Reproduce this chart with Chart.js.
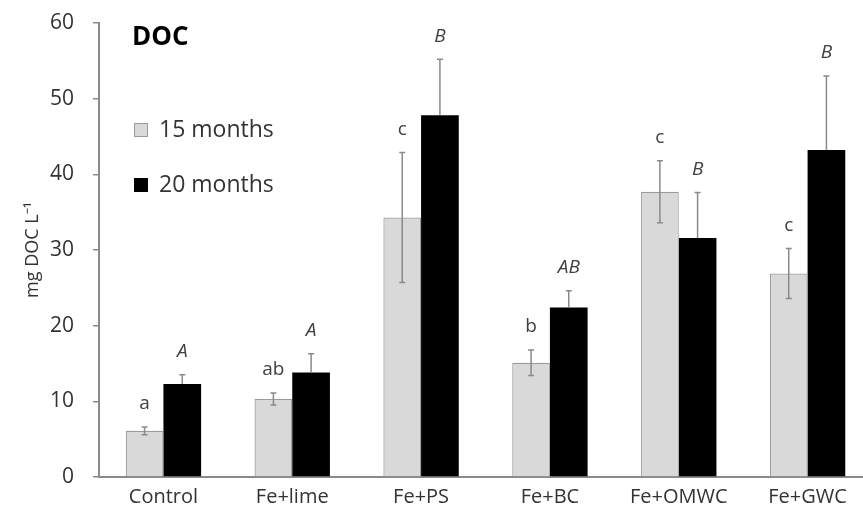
<!DOCTYPE html>
<html><head><meta charset="utf-8">
<script src="https://cdn.jsdelivr.net/npm/chart.js@4/dist/chart.umd.min.js"></script>
<style>
html,body{margin:0;padding:0;background:#fff;overflow:hidden;}
#wrap{position:relative;width:882px;height:523px;}
</style></head><body>
<div id="wrap"><canvas id="c"></canvas></div>
<script>
const categories = ['Control','Fe+lime','Fe+PS','Fe+BC','Fe+OMWC','Fe+GWC'];
const seriesNames = ['15 months','20 months'];
const values15 = [6.1, 10.3, 34.3, 15.1, 37.7, 26.9];
const values20 = [12.3, 13.8, 47.8, 22.4, 31.6, 43.2];
const err15 = [0.5, 0.8, 8.6, 1.7, 4.1, 3.3];
const err20 = [1.2, 2.5, 7.4, 2.2, 6.0, 9.8];
const letters15 = ['a','ab','c','b','c','c'];
const letters20 = ['A','A','B','AB','B','B'];
const yTicks = [0,10,20,30,40,50,60];
const chartTitle = 'DOC';
const yTitle = 'mg DOC L\u207B\u00B9';

const FONT = "'Open Sans', 'Liberation Sans', sans-serif";

const errorBars = {
  id:'errorBars',
  afterDatasetsDraw(chart){
    const ctx = chart.ctx, y = chart.scales.y;
    const errs = [err15, err20];
    const lets = [letters15, letters20];
    chart.data.datasets.forEach((ds, di)=>{
      const meta = chart.getDatasetMeta(di);
      meta.data.forEach((bar, i)=>{
        const v = ds.data[i], e = errs[di][i];
        const yt = y.getPixelForValue(v+e);
        const yb = di===0 ? y.getPixelForValue(v-e) : y.getPixelForValue(v);
        const x = bar.x;
        ctx.save();
        ctx.strokeStyle = '#8a8a8a';
        ctx.lineWidth = 1.5;
        ctx.beginPath();
        ctx.moveTo(x, yt); ctx.lineTo(x, yb);
        ctx.moveTo(x-3, yt); ctx.lineTo(x+3, yt);
        if (di===0){ ctx.moveTo(x-3, yb); ctx.lineTo(x+3, yb); }
        ctx.stroke();
        ctx.fillStyle = '#404040';
        ctx.font = (di===1 ? 'italic ' : '') + '19px ' + FONT;
        ctx.textAlign = 'center';
        ctx.textBaseline = 'middle';
        ctx.fillText(lets[di][i], x, yt - 23);
        ctx.restore();
      });
    });
  }
};

const customLegend = {
  id:'customLegend',
  afterDraw(chart){
    const ctx = chart.ctx;
    ctx.save();
    ctx.fillStyle = '#000';
    ctx.font = 'bold 26px ' + FONT;
    ctx.textAlign = 'left';
    ctx.textBaseline = 'middle';
    ctx.fillText(chartTitle, 132, 38);
    const ys = [130, 185];
    chart.data.datasets.forEach((ds, di)=>{
      const yy = ys[di];
      ctx.fillStyle = ds.backgroundColor;
      ctx.fillRect(134, yy-7, 14, 14);
      ctx.strokeStyle = ds.borderColor;
      ctx.lineWidth = 1;
      ctx.strokeRect(134.5, yy-6.5, 13, 13);
      ctx.fillStyle = '#333';
      ctx.font = '23px ' + FONT;
      ctx.fillText(ds.label, 159, yy);
    });
    ctx.restore();
  }
};

new Chart(document.getElementById('c'), {
  type:'bar',
  data:{
    labels:categories,
    datasets:[
      {label:seriesNames[0], data:values15, backgroundColor:'#d9d9d9', borderColor:'#9a9a9a', borderWidth:1.2, barPercentage:1, categoryPercentage:0.585},
      {label:seriesNames[1], data:values20, backgroundColor:'#000000', borderColor:'#000000', borderWidth:0, barPercentage:1, categoryPercentage:0.585}
    ]
  },
  options:{
    responsive:true,
    maintainAspectRatio:false,
    animation:false,
    layout:{padding:{left:0, right:10, top:23, bottom:6}},
    plugins:{legend:{display:false}, tooltip:{enabled:false}},
    scales:{
      x:{
        grid:{display:false, drawTicks:false},
        border:{color:'#8a8a8a', width:2},
        ticks:{color:'#333', font:{family:FONT, size:20}, padding:8}
      },
      y:{
        min:0, max:60,
        afterBuildTicks(scale){ scale.ticks = yTicks.map(v=>({value:v})); },
        afterFit(scale){ scale.width = 99; scale.paddingTop = 0; scale.paddingBottom = 0; },
        grid:{drawOnChartArea:false, drawTicks:true, tickLength:6, color:'#8a8a8a', lineWidth:1.5},
        border:{color:'#8a8a8a', width:2},
        ticks:{color:'#333', font:{family:FONT, size:21}, padding:19},
        title:{display:true, text:yTitle, color:'#333', font:{family:FONT, size:18}, padding:{top:22, bottom:0}}
      }
    }
  },
  plugins:[errorBars, customLegend]
});
</script>
</body></html>
